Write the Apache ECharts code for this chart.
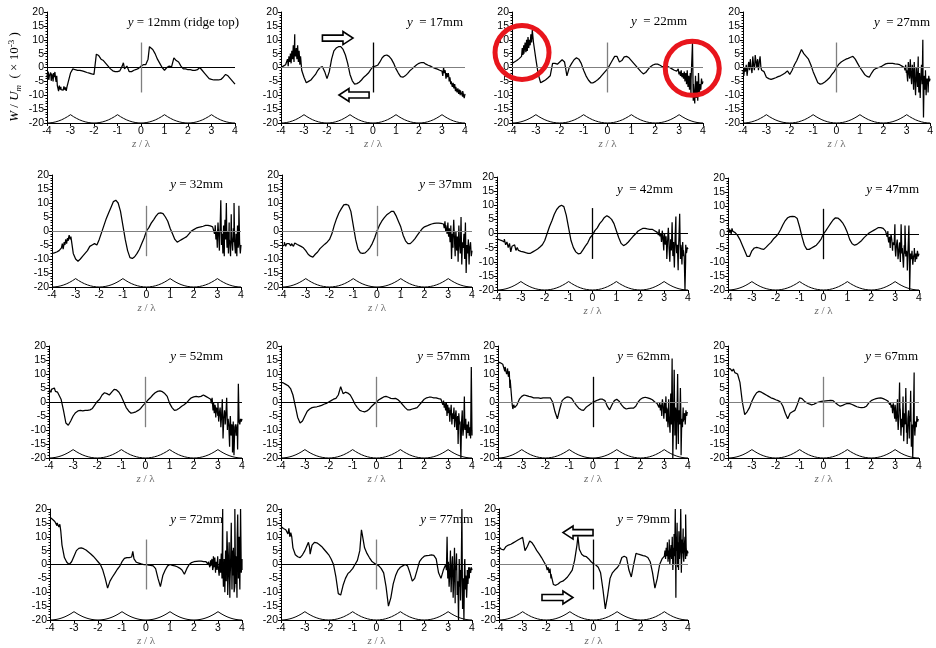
<!DOCTYPE html>
<html><head><meta charset="utf-8">
<script src="https://cdn.jsdelivr.net/npm/echarts@6/dist/echarts.min.js"></script>
<style>html,body{margin:0;padding:0;background:#fff}#c{width:936px;height:648px}</style>
</head><body><div id="c"></div>
<script>
// ---------- shared sampling positions (z / lambda) ----------
const Z = [-4,-3.9,-3.8,-3.7,-3.6,-3.5,-3.4,-3.3,-3.2,-3.1,
 -3,-2.9,-2.8,-2.7,-2.6,-2.5,-2.4,-2.3,-2.2,-2.1,
 -2,-1.9,-1.8,-1.7,-1.6,-1.5,-1.4,-1.3,-1.2,-1.1,
 -1,-0.9,-0.8,-0.7,-0.6,-0.5,-0.4,-0.3,-0.2,-0.1,
 0,
 0.1,0.2,0.3,0.4,0.5,0.6,0.7,0.8,0.9,1,
 1.1,1.2,1.3,1.4,1.5,1.6,1.7,1.8,1.9,2,
 2.1,2.2,2.3,2.4,2.5,2.6,2.7,2.8,2.9,3,
 3.1,3.2,3.3,3.4,3.5,3.6,3.7,3.8,3.9,4];

// ---------- ridge profile ----------
const RIDGE_Z = [-4,-3.875,-3.75,-3.625,-3.5,-3.375,-3.25,-3.125,-3,-2.875,-2.75,-2.625,-2.5,-2.375,-2.25,-2.125,
 -2,-1.875,-1.75,-1.625,-1.5,-1.375,-1.25,-1.125,-1,-0.875,-0.75,-0.625,-0.5,-0.375,-0.25,-0.125,
 0,0.125,0.25,0.375,0.5,0.625,0.75,0.875,1,1.125,1.25,1.375,1.5,1.625,1.75,1.875,
 2,2.125,2.25,2.375,2.5,2.625,2.75,2.875,3,3.125,3.25,3.375,3.5,3.625,3.75,3.875,4];
const RIDGE_W = [-20,-19.95,-19.81,-19.58,-19.25,-18.83,-18.31,-17.7,-17,-17.7,-18.31,-18.83,-19.25,-19.58,-19.81,-19.95,
 -20,-19.95,-19.81,-19.58,-19.25,-18.83,-18.31,-17.7,-17,-17.7,-18.31,-18.83,-19.25,-19.58,-19.81,-19.95,
 -20,-19.95,-19.81,-19.58,-19.25,-18.83,-18.31,-17.7,-17,-17.7,-18.31,-18.83,-19.25,-19.58,-19.81,-19.95,
 -20,-19.95,-19.81,-19.58,-19.25,-18.83,-18.31,-17.7,-17,-17.7,-18.31,-18.83,-19.25,-19.58,-19.81,-19.95,-20];

// ---------- panel labels ----------
const LABELS = ['12mm (ridge top)','17mm','22mm','27mm','32mm','37mm','42mm','47mm',
 '52mm','57mm','62mm','67mm','72mm','77mm','79mm'];
const LABEL_GAP = [' = ','  = ','  = ','  = ',' = ',' = ','  = ',' = ',' = ',' = ',' = ',' = ',' = ',' = ',' = '];

// ---------- W/Um (x10^-3) values on Z, plus noise segments [zFrom, zTo, values] ----------
const W12 = [-2.5,-3,-3,-3.5,-4,-7.5,-8,-8,-7.5,-7,
 -2,-0.5,-0.8,-1,-1,-1.2,-1.5,-1.8,-2,-2.3,
 -2.5,4.8,4.3,3,2.5,1.5,0.5,-0.5,-1.2,-1.5,
 -1.5,-1.2,0.5,-0.5,0.5,-1.5,-1.5,-1,-0.7,-0.3,
 0.5,
 1,1,3,7.3,6.5,5,3,1.5,0,-1,
 0,0.5,0.2,3.5,2.5,2,0.5,-0.5,-0.5,-0.8,
 -0.8,-1,-1,-0.8,0,-1,-2,-3,-4,-4.3,
 -4.5,-4.5,-4.5,-4.3,-3.5,-2.5,-3,-4,-5,-6];
const N12 = [[-4,-3.56,[-2,-4,-1.5,-4.5,-2.5,-3.5,-1.8,-4.8,-2.2,-3,-5,-2,-4,-1.6,-3.8,-5.2,-3,-6.5]],
 [-3.54,-3.15,[-7,-8.5,-6.5,-8,-7,-8.5,-7.5,-8.2,-6.8,-8,-7.2,-8.4,-7]],
 [-0.75,-0.75,[1.7]],[0.36,0.36,[7.5]]];

const W17 = [0,0.5,1,2,3,4,5,5,4,-1,
 -3.5,-5.5,-5,-4.5,-3.5,-2.5,-1,0,0.3,-1.5,
 -4,-1.5,3,6,7,7.5,7.5,6.5,4.5,1.5,
 -2.5,-4.8,-6,-5.8,-5.3,-4.5,-3.5,-2.8,-2,-0.8,
 0.3,
 0.5,0.8,2,3.5,4.3,4.5,4,3,1.5,-0.5,
 -2,-3.3,-3.5,-3,-2.2,-1.2,-0.5,0.3,1,1.5,
 1.8,1.8,1.2,0.8,0.5,0,-0.3,-0.6,-1,-1.3,
 -2,-3,-3.5,-5,-6,-7,-8,-8.3,-8.5,-9.5];
const N17 = [[-3.75,-3.15,[1,3,0.5,4,2,5,1.5,6,3,8,2,12,4,7,3,8,2,6,1,4]],
 [3.0,4.0,[-1,-3,0,-2.5,-1,-4,-2,-3.5,-2,-5,-3.5,-6,-4.5,-7,-5.5,-7.5,-6,-8.5,-7,-9,-7.5,-9.5,-8,-10,-8.5,-9,-10.5,-8.5,-11,-9.5]]];

const W22 = [1.5,2,2.5,3.2,4,5,6.5,8,11,9,
 3,-2.5,-5.5,-5,-4.5,-3.8,-3,1.5,1.5,1.2,
 2,2.8,2,-3,0,1.5,2.8,3.5,3,1.5,
 -1,-3,-4.5,-5.5,-5.5,-5,-4.3,-3.5,-2.5,-1.5,
 -0.5,
 1,2.5,4,4,2,2.5,3.8,4,3.5,2.5,
 1.5,0.5,-0.5,-1.5,-2.3,-1.8,-0.7,0.3,0.9,1.2,
 1.2,0.8,0.3,0.3,0.5,0,-0.5,-1,-1.3,-2,
 -2.5,-3,-3.3,-4,-4.5,-6,-8,-7,-6,-5];
const N22 = [[-3.6,-3.15,[4,7,4.5,8,5,9,5.5,10,6,11,7,10,8,12,9,13.5]],[0.35,0.35,[4.5]],
 [2.9,4.0,[-1,-2,-0.5,-2.5,-1.5,-3,-1,-3.5,-2,-4,-1.5,-5,-2,-6,-1,-7,-3,-8,-2,-10,-4,9,-12,-6,-13,-3,-11,-5,-12,-2,-10,-6,-8,-4,-6,-5]]];

const W27 = [-1,-1.5,-1,-0.5,0,0.5,1.5,2,0,-1.5,
 -3.5,-4,-4.3,-4,-3.7,-3.3,-3,-2.5,-2,-1.2,
 -2.5,-1,1,2.5,4.5,6.5,5,4,3,1,
 -1.5,-3.5,-5.5,-6,-5.8,-5.2,-4.5,-3.7,-2.5,-1.5,
 0,
 1.2,2,2.5,3,3.3,3.7,4,3,1.5,0,
 -1.2,-2.5,-3.2,-3.5,-2,-0.8,-0.3,0,0.3,0.8,
 1.3,1.5,1.5,1.5,1.3,1.2,1,0.5,0,-1,
 -2,-2.5,-3,-3.5,-4,-4.5,-5,-5,-4,-4.5];
const N27 = [[-4,-3.2,[-1,-3,0,-2,1,-3,-0.5,2,-1,3,0,-2,4,1,-1,4.5,2,0,3,-1,2,4,0,-1]],
 [2.9,4.0,[0,-1,1,-2,-0.5,-5,2,-1,-4,3,-3,-6,1,-2,-8,2,-5,-10,0,-3,-7,4,-9,-2,-11,-4,1,-6,10,-18,-3,-8,-1,-10,-4,-6,-9,-3,-5,-4]]];

const W32 = [-8,-7.8,-7.5,-7,-6,-5,-3.5,-2.5,-2,-8,
 -10,-10.8,-10,-9,-8,-7,-5.5,-5,-4.5,-5,
 -3,-0.5,2,4.5,6.5,8.5,10.5,11,10,7,
 2,-3,-7,-9.5,-9.8,-9.2,-8,-6.5,-4.5,-2.5,
 0,
 1.2,2.8,4,5.3,6.3,6.5,6.2,5,3.5,1,
 -1,-3,-4,-3.5,-3,-2.5,-2,-1,0,0.5,
 1,1.3,1.5,1.7,2,2,1.8,1.5,0.5,-2,
 -1,-3,-2,-4,-3,-2,-4,-3,-4,-5];
const N32 = [[-3.6,-3.2,[-6,-4.5,-6.5,-4,-5,-3,-4.5,-2.5,-3.5,-1.5,-3,-2]],
 [2.85,4.0,[1,-1,2,-3,0,-6,3,-2,-7,1,11,-5,-1,-8,2,-9,4,-3,10,-6,0,-8,3,-4,-9,6,-2,-7,1,10,-5,-8,-1,-9,2,-6,9,-4,-8,-5]]];

const W37 = [-5.5,-5,-4.5,-4.5,-4.5,-5,-5,-5,-5.5,-6,
 -7,-8.3,-9,-9.3,-8.3,-7.5,-6.3,-5.5,-4.7,-4,
 -3,-1,2,4.5,6.5,8,9.3,9.5,9.2,7,
 2,-3,-6.5,-7.8,-8,-7.8,-7,-6,-4.5,-2.5,
 0,
 2,3.5,4.7,5.7,6.3,7,7,5.5,3.5,1.5,
 -1.5,-3.5,-4.5,-4.5,-3.7,-2.7,-1.5,-0.3,0.8,1.5,
 1.8,2.2,2.5,2.7,2.8,2.8,2.7,2.5,2,0,
 -2,-3,-3.5,-4,-5,-5,-6,-5,-6,-7];
const N37 = [[-3.9,-3.3,[-4,-5.5,-4.2,-5,-3.8,-5.3,-4.5,-5.5,-4.3,-5,-4.8,-5.5]],
 [2.8,4.0,[3,1,3.5,0,2.5,-1,3,-2,1,-4,2,-10,-1,-6,4,-3,-9,0,-7,-2,-11,2,-5,-8,5,-12,-4,-6,-1,-10,3,-15,-5,-8,-3,-12,-6,-4,-9,-7]]];

const W42 = [-2,-2.2,-2.5,-3,-4,-4.5,-6,-5,-5.5,-6,
 -6.3,-6.5,-6.8,-7,-7,-6.5,-6,-5.5,-4.8,-4,
 -2.5,0,2.5,4.5,6.8,8.5,9.5,10,9.5,6.5,
 2,-2.5,-5,-6.5,-7.2,-7,-5.8,-4.5,-3.3,-1.5,
 -0.5,
 1,2,3.5,4.5,5.7,6.3,5.8,5,3.5,1,
 -1.5,-3.5,-4.3,-3.8,-3,-2,-1,-0.2,0.8,1.3,
 1.8,1.8,1.6,1.5,1.5,1,0.5,0,-2,-1,
 -4,-2,-3,-5,-3,-6,-4,-8,-10,-5.5];
const N42 = [[-3.8,-3.1,[-2.5,-3,-2,-4,-3,-5,-3.5,-6.5,-4.5,-5,-4,-6,-5,-6]],
 [2.7,4.0,[0.5,1,-0.5,1.5,-1,0,-3,1,-2,-6,0,-4,-1,-9,-3,2,-5,-10,-2,-6,4,-8,-3,-12,-1,6,-7,-4,-13,-2,7,-9,-5,-11,-3,-6,-8,-20,-4,-7,-5,-5.5]]];

const W47 = [1,1,1.5,0.5,-0.5,-2,-4,-6,-8,-8,
 -6,-5,-4.8,-5,-5.3,-5.5,-4.7,-3.8,-3,-1.8,
 -1,0,1.5,3.3,4.8,5.8,6.2,6.3,6.2,5.5,
 2.5,-1,-4,-5.5,-5.5,-5,-4.5,-4,-3,-1.8,
 0,
 1.2,2.5,3.8,5,5.8,5.7,5,4,2.5,0.5,
 -2,-3.5,-4,-3.7,-3,-2.3,-1.3,-0.5,0.3,0.8,
 1.3,1.8,2.3,2.3,2,1,-1,-3,-4,-5,
 -4,-6,-5,-7,-8,-10,-9,-7,-8,-8];
const N47 = [[-4,-3.7,[1,2,0.5,1.5,0,2,1,1.5,0.5,1]],
 [2.6,4.0,[1.5,0,-1,1,-3,-1,-5,0,-2,-6,-3,-4,3.5,-8,-4,-2,-9,-6,-3,-10,3.5,-7,-5,-12,-4,3,-8,-6,-13,-5,3,-20,-7,-9,-6,-11,-8,-5,-10,-7,-9,-6,-8,-7]]];

const W52 = [4.3,4.5,4,3.8,3.5,1,-3,-7.5,-8.3,-6.8,
 -5,-3.8,-3.2,-3,-3.2,-3,-3,-2.8,-2.3,-1,
 0.2,1,2.5,3.3,3,2.5,3.5,4.5,4.3,3.5,
 2,0,-2,-3.2,-4,-3.8,-3.5,-3,-2.3,-1.2,
 -0.3,
 0.7,1.5,2.5,3.3,3.8,4,3.7,3,2,-0.5,
 -2,-3,-2.8,-2.2,-1.5,-1,-0.3,0.7,1.5,1.8,
 2,1.8,2,2.5,2,1.5,1,-3,-2,-5,
 -3,-6,-5,-7,-8,-10,-9,-8,-7,-6];
const N52 = [[-4,-3.6,[4,5,3.5,4.5,4,5,3.8,4.5,3.5,4]],
 [2.7,4.0,[1,-0.5,1.5,-2,0,-4,-1,-5.5,-2,-3,0,-7,-4,-2,-9,-5,1,-13,-6,-3,-8,-4,1.5,-10,-6,-9,-16,-5,-12,-8,-18,-7,-19,-10,-8,-12,-9,-17,6.5,-7,-8,-6,-7,-6]]];

const W57 = [7,6.8,6.3,5.8,4.8,2.5,-1.5,-5.5,-7.5,-6.8,
 -5,-3.3,-2.5,-2,-1.8,-1.7,-1.5,-1.2,-0.8,-0.5,
 0,0.5,1,1.3,2.5,5.5,3,3.5,3.2,2.5,
 1,-0.8,-2,-3,-3.3,-3.5,-3.2,-2.5,-1.5,-0.7,
 0,
 0.8,1.3,1.8,2,1.7,1.3,1.2,1.3,0.8,0,
 -1,-2,-2.8,-2.8,-2.5,-2.3,-2,-1,0,1,
 1.5,1.7,1.7,1.5,1.5,1.2,1,-1,-2,-3,
 -4,-5,-6,-5,-7,-8,-9,-10,-11,-12];
const N57 = [[2.75,4.0,[1,-1,0.5,-2,-0.5,-3,0,-5,-1,-4,-2,-7,-3,-1,-8,-4,-6,-2,-9,-5,-3,-10,-6,-15,-4,-8,-11,-20,-7,-3,-12,-9,2,-10,-6,-13,-8,-11,-7,-12,-9,-13,12.5,-10]]];

const W62 = [14.3,14,13.5,12.5,11,5,-1,-1.5,-1,1,
 2,2.5,2.3,2,1.8,1.5,1.5,1.5,1.3,1.5,
 1.5,1.5,1.5,0,-3.5,-6,-2.5,0.5,1.3,1.8,
 1.7,1.3,0,-1.2,-2.2,-2.8,-3,-2,-1.3,-0.7,
 0,
 0.3,0.7,1,1,0.5,-1.5,-2.8,-1,0.5,1,
 0.3,-1,-2,-2.5,-2.3,-2.2,-2.2,-1.5,0,1,
 1.5,1.7,1.5,1.2,0.8,0,-0.5,-1.5,-1,-3,
 -2,-5,-3,-6,-4,-7,-5,-7,-5,-3.5];
const N62 = [[-3.75,-3.3,[13,11,12.5,10,12,9,11,8,4,0,-2.5,-1,-2]],
 [2.75,4.0,[-1,-2,0,-3,-1,-5,1,-2,-6,0,-4,2,-7,-3,-9,1,-5,-11,3,-8,15.5,-20,-6,11.5,-12,-2,-17,-5,10,-15,-3,-8,5,-19,-6,-9,-2,-7,-4,-8,-3,-5,-3.5,-3.5]]];

const W67 = [12,11.8,11.5,11,10,7,0,-4.5,-3.5,-2,
 0.3,2,3.3,3.8,3.5,3,2.5,2,1.5,1.2,
 0.8,0.5,0,-1.5,-4,-6,-4,-3.5,-3,-1,
 1.5,1.2,0.3,-0.3,-0.7,-1,-0.8,-0.3,0,0.2,
 0.3,
 0.4,0.5,0.6,0.5,-0.3,-1,-1.5,-1.2,-0.8,-0.5,
 -0.6,-0.9,-1.3,-1.7,-1.9,-2,-1.9,-1.5,-0.3,0.5,
 0.9,1.2,1.4,1.5,1.2,0.8,0.3,0,-2,-1,
 -4,-2,-6,-4,-8,-5,-9,-6,-7,-6];
const N67 = [[-4,-3.6,[12,11.5,12.3,11,11.8,10.5,11.2,10]],
 [2.75,4.0,[0.5,-1,0,-2,-1,-4,-0.5,-3,-6,-2,-7,-4,1,-10,-5,7,-3,-12,-6,-9,2,-14,-4,-8,5,-11,-15,-6,-3,-13,-7,4,-16,-8,-20,-5,10.5,-12,-7,-9,-5,-7,-6,-6]]];

const W72 = [17,16.3,15.5,15,14,7,2.5,0.8,0,1,
 3,5,5.8,6,5.7,5.2,4.5,3.8,3,2,
 1,0,-2,-5,-8.5,-6,-4.5,-3.2,-1.8,-0.7,
 1,2.2,2.5,2.5,2.7,2,0.8,0.5,0.2,0,
 0,
 -0.2,-0.3,-0.5,-1.5,-5,-8,-4,-2,-0.5,0,
 -0.3,-0.5,-0.8,-1.3,-2,-3.5,-1.5,0,0.7,1,
 1.1,1.2,1.2,1,1,0,-0.5,-1,-1.5,0,
 -2,1,-3,3,-6,5,-8,10,-5,2];
const N72 = [[-3.75,-3.55,[15,14,15.5,13.5,14.5,12]],[-0.55,-0.55,[4.7]],
 [2.6,4.0,[1,0,-1,1.5,-0.5,2,-2,3,-1,2.5,-3,1,-2,3,0,-4,2,-3,4,-5,20,-8,2,-10,5,-6,12,-11,-3,8,-12,0,15,-9,-4,6,-10,20,-7,3,-12,18,-5,10,-9,20,-3,-2]]];

const W77 = [13.7,13,12.5,11.5,10,6,3.5,2.8,2.5,3.5,
 5,7,6,7,8,7.8,7.2,6.5,5.5,4.5,
 3.5,2,0,-4.5,-10.5,-11,-7.5,-5,-3.3,-2.5,
 -1.5,0,1.5,5,11,6,4,2.5,1.2,0.5,
 0,
 -0.5,-1.5,-3,-8,-15,-12,-7,-4,-2,-1,
 -0.5,0,-0.5,-3,-6,-5,-2,1,2.2,3,
 3.2,3.3,3.5,3.3,2,-3,-5,-2,0,-2,
 3,-6,-1,-8,-2,-10,2,-6,-1,-2];
const N77 = [[-3.75,-3.55,[12.5,11,13,10,11.5,10]],[-2.85,-2.85,[8]],[-2.78,-2.78,[3.7]],[-0.63,-0.63,[12.5]],
 [2.9,4.0,[0,-2,10,-5,1,-8,-3,5,-10,-1,3,-12,-4,6,-14,-2,4,-11,-6,-20,2,-8,-13,-3,20,-16,-5,-20,1,-9,-4,-12,-2,-7,-1,-5,-2,-3,-1,-2]]];

const W79 = [6.3,5.5,5.3,6.5,7,7.3,7.8,8.3,8.8,9.3,
 9.8,5,6.5,8.5,7.8,6.5,5,3.8,2.5,1,
 -0.5,-2,-5,-7.2,-7.5,-7,-6.3,-6,-5.3,-4.5,
 -3.3,-2,1.5,7,5.5,3.7,3,2.8,2,1,
 0.3,
 -0.2,-1,-3,-9,-16,-11,-5,-3,-2,-1.2,
 0,2.5,3,2.5,-2,-4.5,0,4,3.7,3.5,
 3.2,3,2.5,1,-3,-8.5,-5,0,2,3,
 5,2,7,0,10,-2,15,3,18,5];
const N79 = [[-2.96,-2.96,[10]],[-2.87,-2.87,[4.5]],[-2.0,-1.8,[0,-2,-1,-3,-1.5,-3.5]],[-0.66,-0.66,[10.2]],
 [3.0,4.0,[3,5,2,6,3,8,1,5,9,0,4,7,2,10,-2,6,11,3,20,-12,5,15,-1,8,12,2,6,20,-3,9,4,13,1,7,10,2,6,3,5,4]]];

const SERIES_W = [W12,W17,W22,W27,W32,W37,W42,W47,W52,W57,W62,W67,W72,W77,W79];
const SERIES_N = [N12,N17,N22,N27,N32,N37,N42,N47,N52,N57,N62,N67,N72,N77,N79];

// ---------- layout (pixels) ----------
const GRIDS = [
 [47,12,188,111],[281,12,184,111],[512,12,191,111],[743,12,190,111],
 [52,175,189,112],[282,175,190,112],[497,177,191,113],[728,178,191,112],
 [49,346,193,112],[281,346,191,112],[498,346,190,112],[728,346,191,112],
 [50,509,192,113],[281,509,191,113],[499,509,189,113]];
const TITLE_POS = [[239,23],[463,23],[687,22],[930,23],[223,185],[472,185],[673,190],[919,190],
 [223,357],[470,357],[670,357],[918,357],[223,520],[473,520],[670,520]];
const GRAY = '#7f7f7f', BLK = '#000';
const ZERO_COL = [BLK,GRAY,GRAY,GRAY,GRAY,GRAY,BLK,BLK,BLK,BLK,GRAY,GRAY,BLK,BLK,GRAY];
const VERT_COL = [GRAY,BLK,GRAY,GRAY,GRAY,GRAY,BLK,BLK,GRAY,GRAY,BLK,GRAY,GRAY,GRAY,BLK];

// annotations in data units: [panel, zTail, zHead, w]
const ARROWS = [[1,-2.2,-0.87,10.6],[1,-0.17,-1.48,-9.9],[14,-0.02,-1.29,11.5],[14,-2.18,-0.87,-11.9]];
// [panel, z, w, radius px]
const CIRCLES = [[2,-3.58,5.4,27],[2,3.55,-0.3,27]];

function buildLine(base, segs){
  const pts = Z.map((z,i)=>[z, base[i]]);
  segs.forEach(([a,b,vals])=>{
    vals.forEach((v,k)=>{
      const z = vals.length>1 ? a+(b-a)*k/(vals.length-1) : a;
      pts.push([z,v]);
    });
  });
  pts.sort((p,q)=>p[0]-q[0]);
  return pts;
}
const ridgeData = RIDGE_Z.map((z,i)=>[z,RIDGE_W[i]]);

const grid=[], xAxis=[], yAxis=[], series=[], graphic=[];
const TICKFONT = "Arial, 'Liberation Sans', Helvetica, sans-serif";
const SERIF = "'Times New Roman', 'Liberation Serif', serif";
GRIDS.forEach((g,i)=>{
  grid.push({left:g[0], top:g[1], width:g[2], height:g[3], containLabel:false});
  xAxis.push({gridIndex:i, type:'value', min:-4, max:4, interval:1,
    axisLine:{show:true,onZero:false,lineStyle:{color:'#000',width:1}},
    axisTick:{show:true,length:3,lineStyle:{color:'#000'}},
    splitLine:{show:false},
    axisLabel:{fontSize:10.5,color:'#000',fontFamily:TICKFONT,margin:3},
    name:'{i|z} / λ', nameLocation:'middle', nameGap:16,
    nameTextStyle:{color:'#666',fontFamily:SERIF,fontSize:11,
      rich:{i:{fontStyle:'italic',color:'#666',fontFamily:SERIF,fontSize:11}}}
  });
  yAxis.push({gridIndex:i, type:'value', min:-20, max:20, interval:5,
    axisLine:{show:true,onZero:false,lineStyle:{color:'#000',width:1}},
    axisTick:{show:true,length:3,lineStyle:{color:'#000'}},
    minorTick:{show:true,splitNumber:5,length:1.5,lineStyle:{color:'#000'}},
    splitLine:{show:false},
    axisLabel:{fontSize:10.5,color:'#000',fontFamily:TICKFONT,margin:3}
  });
  series.push({type:'line', xAxisIndex:i, yAxisIndex:i, data:buildLine(SERIES_W[i],SERIES_N[i]),
    showSymbol:false, symbol:'none', clip:true, silent:true,
    lineStyle:{color:'#000',width:1.25}, z:3,
    markLine:{silent:true, symbol:['none','none'], label:{show:false}, animation:false,
      data:[
        {yAxis:0, lineStyle:{color:ZERO_COL[i],width:1,type:'solid'}},
        [{coord:[0,-9], lineStyle:{color:VERT_COL[i],width:1.3,type:'solid'}},{coord:[0,9]}]
      ]}
  });
  series.push({type:'line', xAxisIndex:i, yAxisIndex:i, data:ridgeData, showSymbol:false, symbol:'none',
    silent:true, lineStyle:{color:'#000',width:1}, z:2});
  const tp = TITLE_POS[i];
  graphic.push({type:'text', x:tp[0], y:tp[1], z:10, silent:true,
    style:{text:'{i|y}'+LABEL_GAP[i]+LABELS[i], align:'right', verticalAlign:'middle',
      fontFamily:SERIF, fontSize:13, fill:'#000',
      rich:{i:{fontStyle:'italic',fontFamily:SERIF,fontSize:13,fill:'#000'}}}});
});

// y-axis title (panel 1)
graphic.push({type:'text', x:15, y:77, rotation:Math.PI/2, silent:true, z:10,
  style:{text:'{i|W} / {i|U}{s|m}  ( × 10{p|-3} )', align:'center', verticalAlign:'middle',
    fontFamily:SERIF, fontSize:13, fill:'#000', lineHeight:16,
    rich:{
      i:{fontStyle:'italic',fontFamily:SERIF,fontSize:13,fill:'#000',lineHeight:16},
      s:{fontStyle:'italic',fontFamily:SERIF,fontSize:9,fill:'#000',verticalAlign:'bottom',lineHeight:16},
      p:{fontFamily:SERIF,fontSize:9,fill:'#000',verticalAlign:'top',lineHeight:16}
    }}});

const chart = echarts.init(document.getElementById('c'), null, {renderer:'canvas'});
chart.setOption({animation:false, backgroundColor:'#fff', grid, xAxis, yAxis, series, graphic});

// annotations via data -> pixel conversion
const extra = [];
ARROWS.forEach(([gi,zt,zh,w])=>{
  const t = chart.convertToPixel({gridIndex:gi},[zt,w]);
  const h = chart.convertToPixel({gridIndex:gi},[zh,w]);
  const y = t[1], dir = Math.sign(h[0]-t[0]);
  const hl = 10, bh = 3, hh = 6.5, nx = h[0]-dir*hl;
  extra.push({type:'polygon', z:20, silent:true,
    shape:{points:[[t[0],y-bh],[nx,y-bh],[nx,y-hh],[h[0],y],[nx,y+hh],[nx,y+bh],[t[0],y+bh]]},
    style:{fill:'#fff',stroke:'#000',lineWidth:1.6}});
});
CIRCLES.forEach(([gi,z,w,r])=>{
  const c = chart.convertToPixel({gridIndex:gi},[z,w]);
  extra.push({type:'circle', z:20, silent:true, shape:{cx:c[0],cy:c[1],r:r},
    style:{fill:'none',stroke:'#e8151c',lineWidth:5}});
});
chart.setOption({graphic: graphic.concat(extra)});
</script>
</body></html>
